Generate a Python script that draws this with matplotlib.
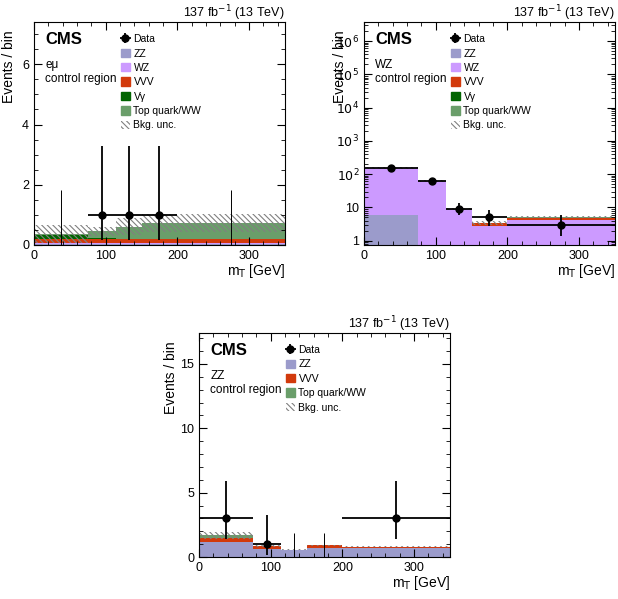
import numpy as np
import matplotlib.pyplot as plt
from matplotlib.patches import Patch
from matplotlib.ticker import FixedLocator, FuncFormatter, AutoMinorLocator, LogLocator, NullFormatter

plt.rcParams['font.family'] = ['Liberation Sans', 'DejaVu Sans']
plt.rcParams['hatch.linewidth'] = 0.8

edges = np.array([0, 75, 115, 150, 200, 350])
centers = np.array([37.5, 95, 132.5, 175, 275])
half = np.diff(edges) / 2

col = {'ZZ': '#9b9bcb', 'WZ': '#cc9aff', 'VVV': '#d23a0c',
       'Vγ': '#006400', 'Top quark/WW': '#6a9e6a'}

# e-mu control region
em_bkg = {'ZZ': [0.02, 0.02, 0.02, 0.02, 0.02],
          'WZ': [0.04, 0.03, 0.04, 0.04, 0.04],
          'VVV': [0.14, 0.15, 0.14, 0.14, 0.14],
          'Vγ': [0.13, 0.02, 0.01, 0.01, 0.01],
          'Top quark/WW': [0.04, 0.23, 0.40, 0.51, 0.52]}
em_unc = [0.29, 0.15, 0.28, 0.30, 0.30]
em_data = [0, 1, 1, 1, 0]
em_lo = [0, 0.83, 0.83, 0.83, 0]
em_hi = [1.84, 2.30, 2.30, 2.30, 1.84]

# WZ control region
wz_bkg = {'ZZ': [5.9, 0.3, 0.1, 0.05, 0.1],
          'WZ': [148, 62, 8.6, 2.7, 4.1],
          'VVV': [0.4, 0.3, 0.2, 0.55, 0.7],
          'Vγ': [0.3, 0.1, 0.02, 0.02, 0.02],
          'Top quark/WW': [0.8, 0.5, 0.1, 0.05, 0.15]}
wz_unc = [10, 4, 0.8, 0.5, 0.35]
wz_data = [152, 62, 9, 5, 3]
wz_lo = [12.3, 7.9, 3.0, 2.2, 1.6]
wz_hi = [13.3, 8.9, 4.1, 3.4, 2.9]

# ZZ control region
zz_bkg = {'ZZ': [1.15, 0.65, 0.55, 0.72, 0.70],
          'VVV': [0.35, 0.22, 0.03, 0.20, 0.12],
          'Top quark/WW': [0.18, 0.0, 0.0, 0.0, 0.0]}
zz_unc = [0.25, 0.05, 0.05, 0.05, 0.05]
zz_data = [3, 1, 0, 0, 3]
zz_lo = [1.63, 0.83, 0, 0, 1.63]
zz_hi = [2.92, 2.30, 1.84, 1.84, 2.92]

HATCH = '\\\\\\\\\\\\'


def panel(ax, bkg, unc, data, lo, hi, region, ylim, ylab_x, log=False):
    bottom = np.full(5, 1e-3 if log else 0.0)
    for name, vals in bkg.items():
        top = bottom + np.array(vals)
        ax.stairs(top, edges, baseline=bottom, fill=True, color=col[name], lw=0)
        bottom = top
    unc = np.array(unc)
    ax.stairs(bottom + unc, edges, baseline=bottom - unc, fill=True,
              facecolor='none', edgecolor='#808080', hatch=HATCH, lw=0)
    data = np.array(data, float)
    nz = data > 0
    eb = ax.errorbar(centers[nz], data[nz], xerr=half[nz],
                     yerr=[np.array(lo)[nz], np.array(hi)[nz]],
                     fmt='o', color='black', ms=5, lw=1.3, capsize=0, zorder=5)
    ax.vlines(centers[~nz], 0, np.array(hi)[~nz], color='black', lw=0.7, zorder=5)

    ax.set_xlim(0, 350)
    ax.set_ylim(*ylim)
    if log:
        ax.set_yscale('log')
        ax.yaxis.set_major_locator(LogLocator(base=10, numticks=10))
        ax.yaxis.set_minor_locator(LogLocator(base=10, subs=np.arange(2, 10), numticks=20))
        ax.yaxis.set_minor_formatter(NullFormatter())
        ax.yaxis.set_major_formatter(FuncFormatter(
            lambda v, p: '1' if v == 1 else ('10' if v == 10 else r'$10^{%d}$' % round(np.log10(v)))))
    else:
        ax.yaxis.set_minor_locator(AutoMinorLocator(5 if ylim[1] > 10 else 4))
    ax.xaxis.set_major_locator(FixedLocator([0, 100, 200, 300]))
    ax.xaxis.set_minor_locator(AutoMinorLocator(5))
    ax.tick_params(which='both', direction='in', top=True, right=True, labelsize=9)
    ax.tick_params(which='major', length=6)
    ax.tick_params(which='minor', length=3)

    ax.set_ylabel('Events / bin', fontsize=10, ha='right', y=1.0)
    ax.yaxis.set_label_coords(ylab_x, 0.965)
    ax.set_xlabel(r'm$_{\rm T}$ [GeV]', fontsize=10, ha='right', x=1.0)
    ax.xaxis.set_label_coords(1.0, -0.075)
    ax.text(1.0, 1.023, r'137 fb$^{-1}$ (13 TeV)', transform=ax.transAxes,
            ha='right', va='baseline', fontsize=9)
    ax.text(0.045, 0.955, 'CMS', transform=ax.transAxes, ha='left', va='top',
            fontsize=12, fontweight='bold')
    ax.text(0.045, 0.835, region, transform=ax.transAxes, ha='left', va='top',
            fontsize=8.5, linespacing=1.25)

    handles = [eb] + [Patch(color=col[n]) for n in bkg] + \
              [Patch(facecolor='white', edgecolor='#808080', hatch=HATCH, lw=0)]
    labels = ['Data'] + list(bkg) + ['Bkg. unc.']
    ax.legend(handles, labels, loc='upper left', bbox_to_anchor=(0.33, 0.965),
              frameon=False, fontsize=7.5, handlelength=0.85, handleheight=0.85,
              labelspacing=0.42, handletextpad=0.35, borderaxespad=0)


fig = plt.figure(figsize=(6.18, 5.99), dpi=100)
ax1 = fig.add_axes([0.055, 0.591, 0.406, 0.372])
ax2 = fig.add_axes([0.589, 0.591, 0.406, 0.372])
ax3 = fig.add_axes([0.322, 0.070, 0.406, 0.374])

panel(ax1, em_bkg, em_unc, em_data, em_lo, em_hi, 'eμ\ncontrol region', (0, 7.4), -0.072)
ax1.yaxis.set_major_locator(FixedLocator([0, 2, 4, 6]))
panel(ax2, wz_bkg, wz_unc, wz_data, wz_lo, wz_hi, 'WZ\ncontrol region', (0.74, 3.7e6), -0.068, log=True)
panel(ax3, zz_bkg, zz_unc, zz_data, zz_lo, zz_hi, 'ZZ\ncontrol region', (0, 17.4), -0.084)
ax3.yaxis.set_major_locator(FixedLocator([0, 5, 10, 15]))

fig.savefig('out.png', dpi=100)
